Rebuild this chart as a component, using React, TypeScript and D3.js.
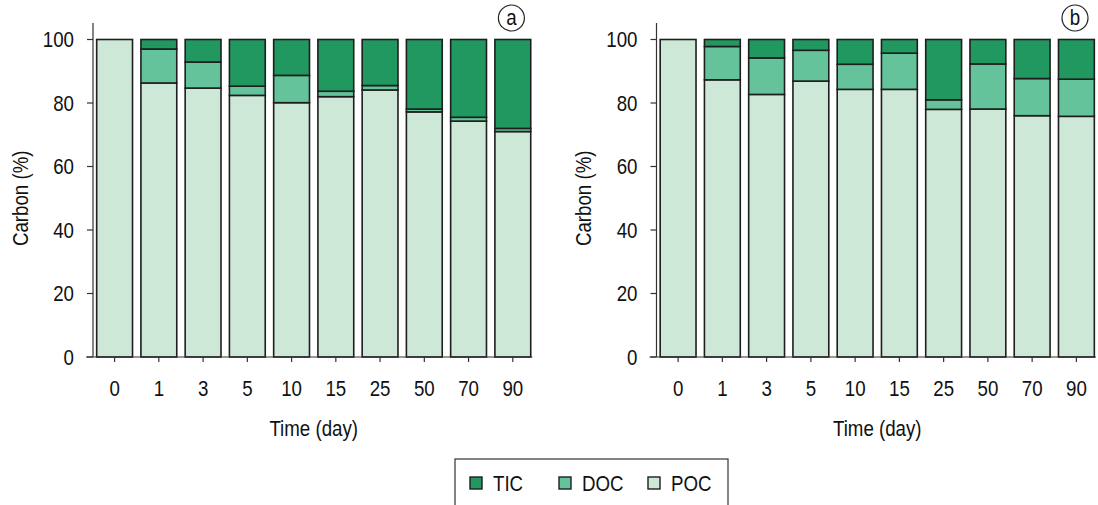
import React, { useEffect, useRef } from "react";
import * as d3 from "d3";

const days = ["0", "1", "3", "5", "10", "15", "25", "50", "70", "90"];
const seriesKeys = ["POC", "DOC", "TIC"];

// panel (a)
const pocA = [100, 86.3, 84.7, 82.4, 80.1, 82.0, 84.1, 77.2, 74.3, 71.0];
const docA = [0, 10.7, 8.2, 2.9, 8.6, 1.7, 1.4, 0.9, 1.2, 1.0];
const ticA = [0, 3.0, 7.1, 14.7, 11.3, 16.3, 14.5, 21.9, 24.5, 28.0];

// panel (b)
const pocB = [100, 87.3, 82.7, 86.9, 84.3, 84.3, 78.0, 78.1, 76.0, 75.8];
const docB = [0, 10.5, 11.5, 9.7, 7.9, 11.4, 3.0, 14.2, 11.7, 11.7];
const ticB = [0, 2.2, 5.8, 3.4, 7.8, 4.3, 19.0, 7.7, 12.3, 12.5];

const yTicks = [0, 20, 40, 60, 80, 100];
const legendItems = ["TIC", "DOC", "POC"];

const colors = { TIC: "#21985f", DOC: "#64c39b", POC: "#cde8d7" };
const font = "'Liberation Sans', Arial, sans-serif";
const squeeze = 0.85; // narrow look of the original lettering

export default function App() {
    const svgRef = useRef(null);

    useEffect(() => {
        const svg = d3.select(svgRef.current);
        svg.selectAll("*").remove();

        const yScale = d3.scaleLinear().domain([0, 100]).range([357, 39.5]);

        // narrow text placed at (x, y)
        const label = (g, x, y, txt, anchor = "middle", size = 22, rotate = 0) =>
            g.append("text")
                .attr("transform", `translate(${x},${y}) rotate(${rotate}) scale(${squeeze},1)`)
                .attr("dy", "0.36em")
                .attr("text-anchor", anchor)
                .style("font-size", `${size}px`)
                .attr("fill", "#111")
                .text(txt);

        const drawPanel = (left, right, poc, doc, tic, tag) => {
            const g = svg.append("g");
            const rows = days.map((d, i) => ({ day: d, POC: poc[i], DOC: doc[i], TIC: tic[i] }));
            const stacked = d3.stack().keys(seriesKeys)(rows);

            const xScale = d3.scaleBand()
                .domain(days)
                .range([left, right])
                .paddingInner(0.19)
                .paddingOuter(0.083);
            const cx = d => xScale(d) + xScale.bandwidth() / 2;

            // bars
            stacked.forEach(layer => {
                g.selectAll(null)
                    .data(layer.filter(s => s[1] - s[0] > 0))
                    .join("rect")
                    .attr("x", s => xScale(s.data.day))
                    .attr("y", s => yScale(s[1]))
                    .attr("width", xScale.bandwidth())
                    .attr("height", s => yScale(s[0]) - yScale(s[1]))
                    .attr("fill", colors[layer.key])
                    .attr("stroke", "#1e1e1e")
                    .attr("stroke-width", 1.6);
            });

            // y axis
            g.append("line")
                .attr("x1", left).attr("x2", left)
                .attr("y1", 23).attr("y2", yScale(0))
                .attr("stroke", "#333").attr("stroke-width", 1.2);
            g.selectAll(null).data(yTicks).join("line")
                .attr("x1", left - 6).attr("x2", left)
                .attr("y1", d => yScale(d)).attr("y2", d => yScale(d))
                .attr("stroke", "#333").attr("stroke-width", 1.2);
            yTicks.forEach(t => label(g, left - 19, yScale(t), t, "end"));

            // x axis
            g.append("line")
                .attr("x1", left - 7).attr("x2", right - 2)
                .attr("y1", yScale(0)).attr("y2", yScale(0))
                .attr("stroke", "#333").attr("stroke-width", 1.2);
            g.selectAll(null).data(days).join("line")
                .attr("x1", cx).attr("x2", cx)
                .attr("y1", yScale(0)).attr("y2", yScale(0) + 5)
                .attr("stroke", "#333").attr("stroke-width", 1.2);
            days.forEach(d => label(g, cx(d), 388, d));

            // titles
            label(g, (left + right) / 2, 428, "Time (day)");
            label(g, left - 73, yScale(50), "Carbon (%)", "middle", 22, -90);

            // panel tag
            g.append("circle")
                .attr("cx", right - 23).attr("cy", 18).attr("r", 13)
                .attr("fill", "none").attr("stroke", "#222").attr("stroke-width", 1.2);
            label(g, right - 23, 17, tag, "middle", 22);
        };

        drawPanel(93, 534.4, pocA, docA, ticA, "a");
        drawPanel(656.5, 1098, pocB, docB, ticB, "b");

        // legend
        const lg = svg.append("g");
        lg.append("rect")
            .attr("x", 455).attr("y", 459).attr("width", 273).attr("height", 70)
            .attr("fill", "white").attr("stroke", "#333").attr("stroke-width", 1.2);
        const legendX = d3.scaleOrdinal().domain(legendItems).range([470, 559, 648]);
        lg.selectAll(null).data(legendItems).join("rect")
            .attr("x", d => legendX(d)).attr("y", 477)
            .attr("width", 12).attr("height", 12)
            .attr("fill", d => colors[d])
            .attr("stroke", "#1e1e1e").attr("stroke-width", 1.4);
        legendItems.forEach(d => label(lg, legendX(d) + 23, 483, d, "start"));
    }, []);

    return (
        <svg
            ref={svgRef}
            width={1098}
            height={505}
            style={{ position: "absolute", left: 0, top: 0, fontFamily: font, background: "white" }}
        />
    );
}
